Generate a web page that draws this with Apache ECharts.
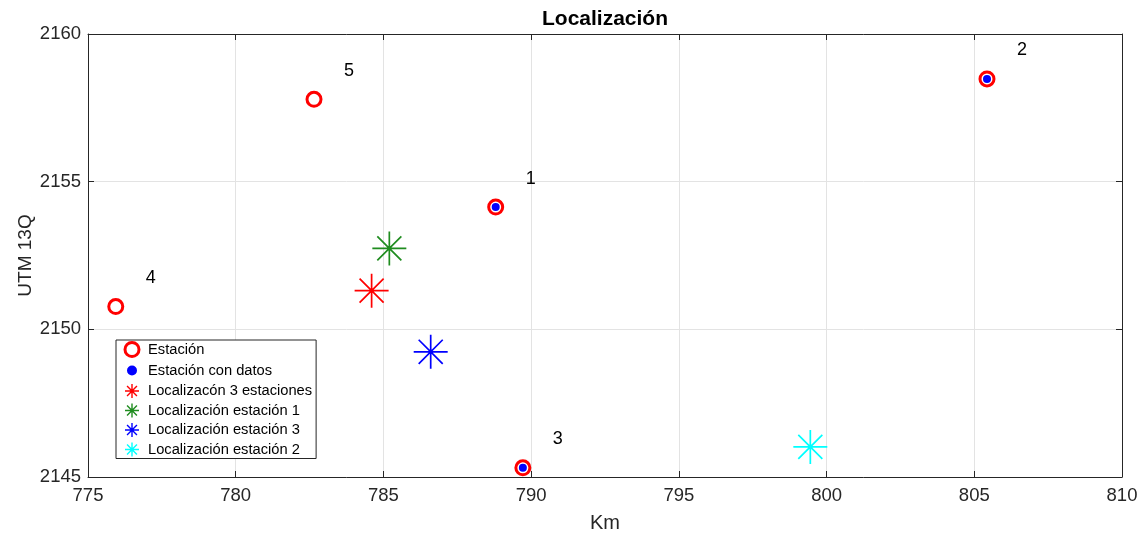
<!DOCTYPE html>
<html>
<head>
<meta charset="utf-8">
<script src="https://cdn.jsdelivr.net/npm/echarts@6/dist/echarts.min.js"></script>
<style>
  html, body { margin: 0; padding: 0; background: #fff; }
  #chart { width: 1143px; height: 533px; }
</style>
</head>
<body>
<div id="chart"></div>
<script>
// Stations (Km / UTM 13Q)
const stationNames = ['1', '2', '3', '4', '5'];
const stationX = [788.80, 805.43, 789.72, 775.94, 782.65];
const stationY = [2154.14, 2158.48, 2145.31, 2150.77, 2157.79];

// Stations that delivered data
const dataStationX = [788.80, 805.43, 789.72];
const dataStationY = [2154.14, 2158.48, 2145.31];

// Located epicentres
const loc3X = [784.60];  const loc3Y = [2151.31];
const loc1X = [785.20];  const loc1Y = [2152.74];
const loc3sX = [786.60]; const loc3sY = [2149.24];
const loc2X = [799.45];  const loc2Y = [2146.02];

// Axis ranges
const xTicks = [775, 780, 785, 790, 795, 800, 805, 810];
const yTicks = [2145, 2150, 2155, 2160];

const legendNames = [
  'Estación',
  'Estación con datos',
  'Localizacón 3 estaciones',
  'Localización estación 1',
  'Localización estación 3',
  'Localización estación 2'
];

const zip = (xs, ys) => xs.map((x, i) => [x, ys[i]]);
const star = 'path://M0,-10L0,10M-10,0L10,0M-7.07,-7.07L7.07,7.07M-7.07,7.07L7.07,-7.07';
const axisColor = '#262626';
const font = 'Arial, "Liberation Sans", Helvetica, sans-serif';

function starSeries(name, xs, ys, color) {
  return {
    name: name,
    type: 'scatter',
    data: zip(xs, ys),
    symbol: star,
    symbolSize: 34,
    itemStyle: { color: 'transparent', borderColor: color, borderWidth: 1.7, opacity: 1 },
    z: 3
  };
}

const chart = echarts.init(document.getElementById('chart'), null, { renderer: 'canvas' });

const axisCommon = {
  type: 'value',
  axisLine: { show: true, onZero: false, lineStyle: { color: axisColor, width: 1 } },
  axisTick: { show: true, inside: true, length: 6, lineStyle: { color: axisColor } },
  splitLine: { show: false }
};

chart.setOption({
  backgroundColor: '#fff',
  animation: false,
  textStyle: { fontFamily: font },
  title: {
    text: 'Localización',
    left: 600,
    textAlign: 'center',
    top: 4,
    textStyle: { fontSize: 21, fontWeight: 'bold', color: '#000', fontFamily: font }
  },
  grid: { left: 88, right: 21, top: 34, bottom: 56, containLabel: false, outerBoundsMode: 'none' },
  xAxis: [
    Object.assign({}, axisCommon, {
      min: xTicks[0], max: xTicks[xTicks.length - 1], interval: 5,
      position: 'bottom',
      name: 'Km', nameLocation: 'middle', nameGap: 36, nameMoveOverlap: false,
      nameTextStyle: { fontSize: 20, color: axisColor, fontFamily: font },
      axisLabel: { fontSize: 18.5, color: axisColor, margin: 9, fontFamily: font, formatter: v => String(v) },
      splitLine: { show: true, lineStyle: { color: '#e3e3e3', width: 1 } }
    }),
    Object.assign({}, axisCommon, {
      min: xTicks[0], max: xTicks[xTicks.length - 1], interval: 5,
      position: 'top',
      axisLabel: { show: false }
    })
  ],
  yAxis: [
    Object.assign({}, axisCommon, {
      min: yTicks[0], max: yTicks[yTicks.length - 1], interval: 5,
      position: 'left',
      name: 'UTM 13Q', nameLocation: 'middle', nameGap: 53, nameMoveOverlap: false,
      nameTextStyle: { fontSize: 19, color: axisColor, fontFamily: font },
      axisLabel: { fontSize: 18.5, color: axisColor, margin: 7, fontFamily: font, formatter: v => String(v) },
      splitLine: { show: true, lineStyle: { color: '#e3e3e3', width: 1 } }
    }),
    Object.assign({}, axisCommon, {
      min: yTicks[0], max: yTicks[yTicks.length - 1], interval: 5,
      position: 'right',
      axisLabel: { show: false }
    })
  ],
  legend: {
    orient: 'vertical',
    left: 116,
    top: 340,
    padding: [1, 4, 1, 7],
    itemGap: 3.5,
    itemWidth: 16,
    itemHeight: 14,
    backgroundColor: '#fff',
    borderColor: axisColor,
    borderWidth: 1,
    textStyle: { fontSize: 14.7, lineHeight: 16, color: '#000', fontFamily: font, padding: [0, 0, 0, 3] },
    data: [
      { name: legendNames[0], icon: 'circle', itemStyle: { color: '#fff', borderColor: '#ff0000', borderWidth: 3 } },
      { name: legendNames[1], icon: 'circle', itemStyle: { color: '#0000ff', borderWidth: 4, borderColor: '#fff' } },
      { name: legendNames[2], icon: star, itemStyle: { color: 'transparent', borderColor: '#ff0000', borderWidth: 1.4 } },
      { name: legendNames[3], icon: star, itemStyle: { color: 'transparent', borderColor: '#1f8c1f', borderWidth: 1.4 } },
      { name: legendNames[4], icon: star, itemStyle: { color: 'transparent', borderColor: '#0000ff', borderWidth: 1.4 } },
      { name: legendNames[5], icon: star, itemStyle: { color: 'transparent', borderColor: '#00ffff', borderWidth: 1.4 } }
    ]
  },
  series: [
    {
      name: legendNames[0],
      type: 'scatter',
      data: stationX.map((x, i) => ({ value: [x, stationY[i]], name: stationNames[i] })),
      symbol: 'circle',
      symbolSize: 14,
      itemStyle: { color: '#fff', borderColor: '#ff0000', borderWidth: 3, opacity: 1 },
      label: {
        show: true,
        formatter: p => p.name,
        position: 'inside',
        align: 'left',
        verticalAlign: 'middle',
        offset: [30, -28.5],
        fontSize: 18,
        color: '#000',
        fontFamily: font
      },
      z: 2
    },
    {
      name: legendNames[1],
      type: 'scatter',
      data: zip(dataStationX, dataStationY),
      symbol: 'circle',
      symbolSize: 8,
      itemStyle: { color: '#0000ff', opacity: 1 },
      z: 4
    },
    starSeries(legendNames[2], loc3X, loc3Y, '#ff0000'),
    starSeries(legendNames[3], loc1X, loc1Y, '#1f8c1f'),
    starSeries(legendNames[4], loc3sX, loc3sY, '#0000ff'),
    starSeries(legendNames[5], loc2X, loc2Y, '#00ffff')
  ]
});
</script>
</body>
</html>
